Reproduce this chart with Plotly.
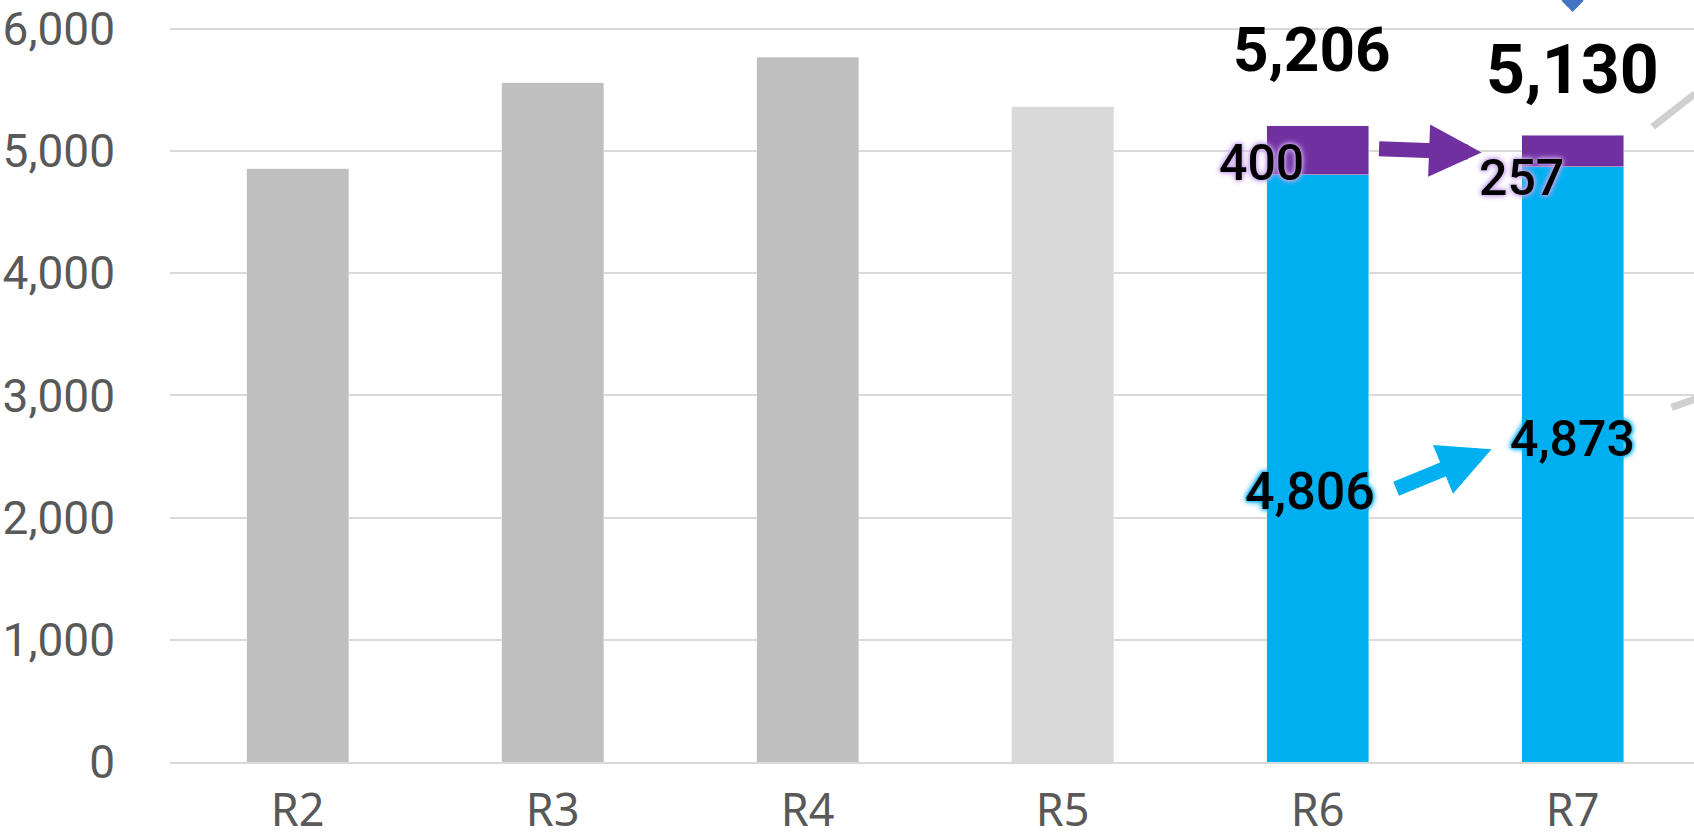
import plotly.graph_objects as go

categories = ["R2", "R3", "R4", "R5", "R6", "R7"]
gray_values = [4857, 5558, 5770, 5364, None, None]
gray_colors = ["#BFBFBF", "#BFBFBF", "#BFBFBF", "#D9D9D9", "#BFBFBF", "#BFBFBF"]
blue_values = [None, None, None, None, 4806, 4873]
purple_values = [None, None, None, None, 400, 257]
totals = [None, None, None, None, 5206, 5130]
marker_value = 6230  # partially visible diamond of a cropped series at R7

y_ticks = [0, 1000, 2000, 3000, 4000, 5000, 6000]
y_tick_text = ["0", "1,000", "2,000", "3,000", "4,000", "5,000", "6,000"]

NUM_FONT = "Roboto, Liberation Sans, sans-serif"

fig = go.Figure()
fig.add_trace(go.Bar(x=categories, y=gray_values, marker_color=gray_colors, width=0.4))
fig.add_trace(go.Bar(x=categories, y=blue_values, marker_color="#00B0F0", width=0.4))
fig.add_trace(go.Bar(x=categories, y=purple_values, marker_color="#7030A0", width=0.4))
fig.add_trace(go.Scatter(x=[categories[5]], y=[marker_value], mode="markers",
                         marker=dict(symbol="diamond", size=17, color="#4472C4"),
                         cliponaxis=False))

purple_glow = "0 0 3px #C9A6EC, 0 0 5px #C9A6EC, 0 0 7px #C9A6EC"
blue_glow = "0 0 3px #00B0F0, 0 0 5px #00B0F0, 0 0 7px #00B0F0"

ann = []
# totals
ann.append(dict(x=4 - 0.02, y=5830, text=f"{totals[4]:,}", showarrow=False,
                font=dict(family=NUM_FONT, size=62, color="#000000", weight="bold")))
ann.append(dict(x=5, y=5666, text=f"{totals[5]:,}", showarrow=False,
                font=dict(family=NUM_FONT, size=68, color="#000000", weight="bold")))
# purple labels
ann.append(dict(x=4 - 0.22, y=4906, text=f"{purple_values[4]:,}", showarrow=False,
                font=dict(family=NUM_FONT, size=50, color="#000000", weight=500, shadow=purple_glow)))
ann.append(dict(x=5 - 0.2, y=4783, text=f"{purple_values[5]:,}", showarrow=False,
                font=dict(family=NUM_FONT, size=50, color="#000000", weight=500, shadow=purple_glow)))
# blue labels
ann.append(dict(x=4 - 0.03, y=2216, text=f"{blue_values[4]:,}", showarrow=False,
                font=dict(family=NUM_FONT, size=52, color="#000000", weight=500, shadow=blue_glow)))
ann.append(dict(x=5, y=2641, text=f"{blue_values[5]:,}", showarrow=False,
                font=dict(family=NUM_FONT, size=50, color="#000000", weight=500, shadow=blue_glow)))
# arrows
ann.append(dict(x=4.643, y=4988, ax=4.235, ay=5020, axref="x", ayref="y", xref="x", yref="y",
                text="", showarrow=True, arrowhead=2, arrowwidth=15, arrowsize=0.7,
                arrowcolor="#7030A0", standoff=0, startstandoff=0))
ann.append(dict(x=4.682, y=2559, ax=4.302, ay=2232, axref="x", ayref="y", xref="x", yref="y",
                text="", showarrow=True, arrowhead=2, arrowwidth=15, arrowsize=0.7,
                arrowcolor="#00B0F0", standoff=0, startstandoff=0))

shapes = [
    dict(type="line", xref="x", yref="y", x0=5.314, y0=5200, x1=5.48, y1=5470,
         line=dict(color="#D0D0D0", width=7)),
    dict(type="line", xref="x", yref="y", x0=5.388, y0=2903, x1=5.48, y1=2970,
         line=dict(color="#D0D0D0", width=7)),
]

fig.update_layout(
    width=1694, height=832,
    margin=dict(l=170, r=0, t=0, b=70, autoexpand=False),
    barmode="stack",
    showlegend=False,
    plot_bgcolor="white", paper_bgcolor="white",
    annotations=ann,
    shapes=shapes,
    xaxis=dict(range=[-0.5, 5.476], showgrid=False, showline=True, linecolor="#D9D9D9",
               linewidth=2, ticks="", ticklabelstandoff=8, automargin=False,
               tickfont=dict(family="Noto Sans, sans-serif", size=45, color="#595959")),
    yaxis=dict(range=[0, 6237], tickvals=y_ticks, ticktext=y_tick_text,
               showgrid=True, gridcolor="#D9D9D9", gridwidth=2, zeroline=False,
               ticks="", ticklabelstandoff=54, automargin=False, ticklabeloverflow="allow",
               tickfont=dict(family=NUM_FONT, size=46, color="#595959")),
)

fig.write_html("out.html", config={"displayModeBar": False},
               post_script="document.body.style.margin='0';document.body.style.overflow='hidden';")
